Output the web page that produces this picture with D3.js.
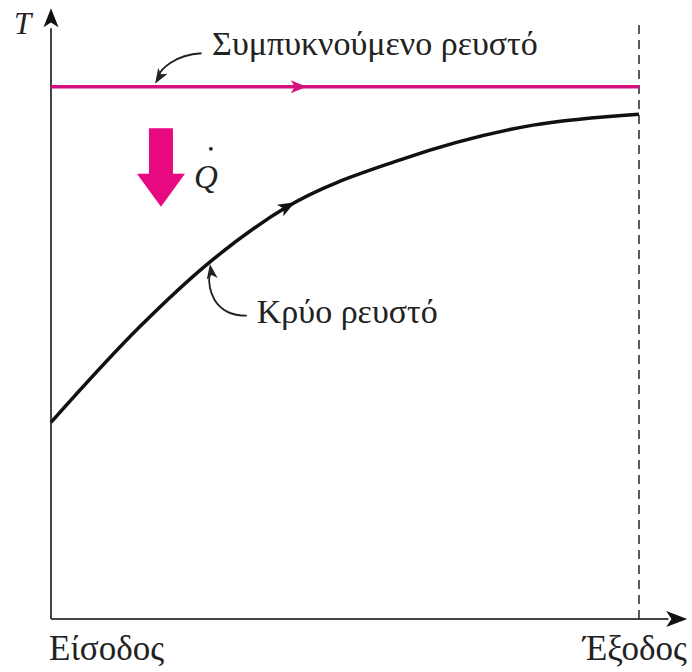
<!DOCTYPE html>
<html>
<head>
<meta charset="utf-8">
<script src="https://cdn.jsdelivr.net/npm/d3@7"></script>
<style>
  body { margin: 0; background: #fff; }
  svg { display: block; }
  text { font-family: "Liberation Serif", "DejaVu Serif", serif; fill: #222; }
</style>
</head>
<body>
<div id="chart"></div>
<script>
// ---- Data (position 0 = inlet, 1 = outlet) ----
const coldPosition = [0, 0.15, 0.27, 0.40, 0.594, 0.82, 1.0];
const coldTemp     = [32.3, 47.9, 58.6, 67.6, 75.4, 81.1, 82.9];
const hotPosition  = [0, 1];
const hotTemp      = [87.4, 87.4];

const xTickLabels = ["Είσοδος", "Έξοδος"];
const axisLabelT = "T";
const hotLabel = "Συμπυκνούμενο ρευστό";
const coldLabel = "Κρύο ρευστό";

const HOT = "#d4117f";
const Q_FILL = "#e8087f";

const W = 692, H = 672;
const svg = d3.select("#chart").append("svg").attr("width", W).attr("height", H);

// ---- Scales ----
const x = d3.scaleLinear().domain([0, 1]).range([51, 639]);
const y = d3.scaleLinear().domain([0, 100]).range([619, 10]);

// filled arrowhead with a slight notch, tip at (tx,ty), pointing along angle a
function arrowHead(g, tx, ty, a, len, half, fill) {
  const c = Math.cos(a), s = Math.sin(a);
  const p = (u, v) => [tx - u * c - v * s, ty - u * s + v * c];
  const pts = [p(0, 0), p(len, half), p(len * 0.75, 0), p(len, -half)];
  g.append("path")
    .attr("d", "M" + pts.map(d => d.join(",")).join("L") + "Z")
    .attr("fill", fill);
}

// ---- Axes ----
const axes = svg.append("g");
axes.append("line")
  .attr("x1", x(0)).attr("x2", x(0))
  .attr("y1", y(0)).attr("y2", y(97))
  .attr("stroke", "#444").attr("stroke-width", 2);
arrowHead(axes, x(0), y(100.3), -Math.PI / 2, 19, 7.5, "#111");

axes.append("line")
  .attr("x1", x(0)).attr("x2", x(1.05))
  .attr("y1", y(0)).attr("y2", y(0))
  .attr("stroke", "#444").attr("stroke-width", 2);
arrowHead(axes, x(1.082), y(0), 0, 21, 8, "#111");

// outlet dashed line
axes.append("line")
  .attr("x1", x(1)).attr("x2", x(1))
  .attr("y1", y(0)).attr("y2", y(98))
  .attr("stroke", "#333").attr("stroke-width", 1.6)
  .attr("stroke-dasharray", "9,6");

axes.append("text")
  .attr("x", x(0) - 37).attr("y", y(96.1))
  .style("font-style", "italic").style("font-size", "31px")
  .text(axisLabelT);

axes.append("text")
  .attr("x", x(0) - 2).attr("y", y(0) + 41)
  .style("font-size", "35px")
  .text(xTickLabels[0]);
axes.append("text")
  .attr("x", x(1) - 4).attr("y", y(0) + 41)
  .attr("text-anchor", "middle")
  .style("font-size", "35px")
  .text(xTickLabels[1]);

// ---- Hot (condensing) fluid ----
const line = d3.line().x(d => x(d[0])).y(d => y(d[1]));
svg.append("path")
  .datum(hotPosition.map((p, i) => [p, hotTemp[i]]))
  .attr("d", line)
  .attr("fill", "none")
  .attr("stroke", HOT)
  .attr("stroke-width", 3.5);
arrowHead(svg, x(0.435), y(hotTemp[0]), 0, 16, 6.5, HOT);

// ---- Cold fluid ----
const coldPath = svg.append("path")
  .datum(coldPosition.map((p, i) => [p, coldTemp[i]]))
  .attr("d", line.curve(d3.curveMonotoneX))
  .attr("fill", "none")
  .attr("stroke", "#111")
  .attr("stroke-width", 3.5);

// point + direction on the cold curve at a given position
function onCold(pos) {
  const node = coldPath.node(), L = node.getTotalLength();
  let best = 0, bd = Infinity;
  for (let l = 0; l <= L; l += 1) {
    const d = Math.abs(node.getPointAtLength(l).x - x(pos));
    if (d < bd) { bd = d; best = l; }
  }
  const a = node.getPointAtLength(Math.max(best - 2, 0));
  const b = node.getPointAtLength(Math.min(best + 2, L));
  const pt = node.getPointAtLength(best);
  return { x: pt.x, y: pt.y, angle: Math.atan2(b.y - a.y, b.x - a.x) };
}
const flow = onCold(0.415);
arrowHead(svg, flow.x, flow.y, flow.angle, 17, 6.5, "#111");

// ---- Heat flow arrow Q ----
const qx = x(0.187), qTop = y(80.6), qBase = y(73.1), qTip = y(67.7);
svg.append("path")
  .attr("d", `M${qx - 12},${qTop}L${qx + 12},${qTop}L${qx + 12},${qBase}L${qx + 24},${qBase}` +
             `L${qx},${qTip}L${qx - 24},${qBase}L${qx - 12},${qBase}Z`)
  .attr("fill", Q_FILL);
svg.append("text")
  .attr("x", x(0.243)).attr("y", y(70.8))
  .style("font-style", "italic").style("font-size", "33px")
  .text("Q");
svg.append("circle")
  .attr("cx", x(0.243) + 17).attr("cy", y(77.2))
  .attr("r", 1.9).attr("fill", "#222");

// ---- Annotations ----
const hotTip = [x(0.177), y(hotTemp[0]) - 3];
svg.append("text")
  .attr("x", x(0.274)).attr("y", y(92.6))
  .style("font-size", "34px")
  .text(hotLabel);
svg.append("path")
  .attr("d", `M${x(0.256)},${y(92.9)}C${hotTip[0] + 18},${y(92.6)} ${hotTip[0] + 6},${hotTip[1] - 14} ${hotTip[0] + 3},${hotTip[1] - 8}`)
  .attr("fill", "none").attr("stroke", "#222").attr("stroke-width", 1.8);
arrowHead(svg, hotTip[0], hotTip[1], Math.atan2(13, -8), 15, 5.5, "#222");

const coldTip = onCold(0.27);
svg.append("text")
  .attr("x", x(0.35)).attr("y", y(48.6))
  .style("font-size", "34px")
  .text(coldLabel);
svg.append("path")
  .attr("d", `M${x(0.333)},${y(49.8)}C${coldTip.x + 2},${y(49.8)} ${coldTip.x - 2},${coldTip.y + 25} ${coldTip.x - 0.5},${coldTip.y + 12}`)
  .attr("fill", "none").attr("stroke", "#222").attr("stroke-width", 1.8);
arrowHead(svg, coldTip.x, coldTip.y + 2, -Math.PI / 2 - 0.15, 15, 5.5, "#222");
</script>
</body>
</html>
